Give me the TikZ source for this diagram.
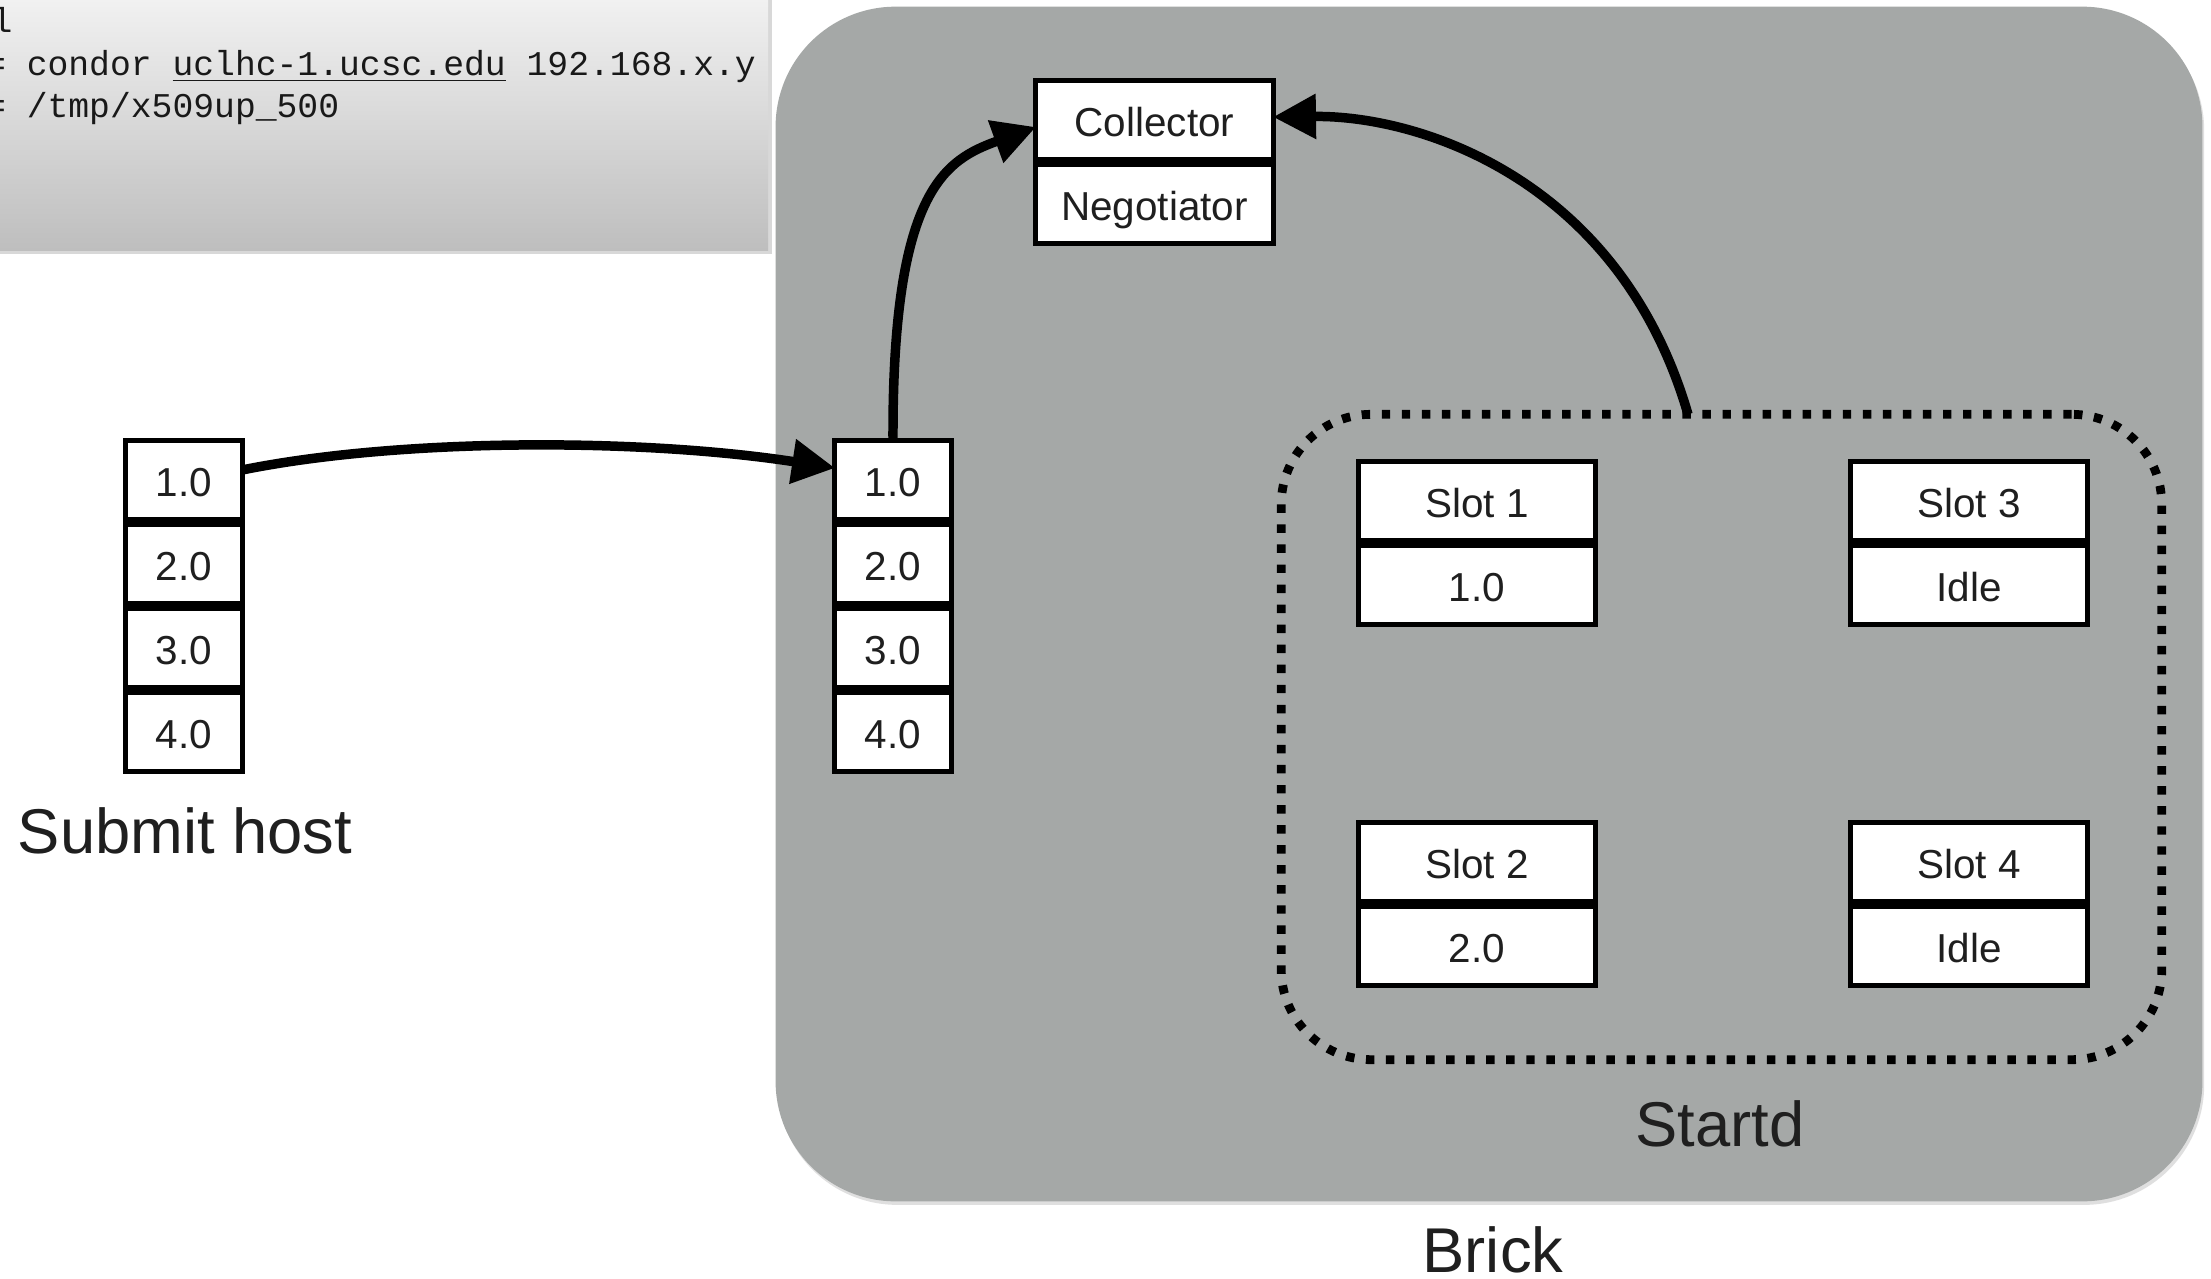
\documentclass[tikz,border=0pt]{standalone}
\usepackage{fontspec}
\setmainfont{Liberation Sans}
\newfontfamily\termfont{Liberation Mono}
\usetikzlibrary{arrows.meta,calc,shadows}
\definecolor{brickgray}{RGB}{165,168,167}
\definecolor{termtop}{RGB}{247,247,247}
\definecolor{termbot}{RGB}{190,190,190}
\begin{document}
\begin{tikzpicture}[x=0.01cm,y=-0.01cm,
  cell/.style={draw=black, line width=1.42pt, fill=white, inner sep=0pt, outer sep=0pt,
    minimum height=0.79cm, text height=0.95em, text depth=0pt, text=black!88,
    font=\fontsize{11.5}{13}\selectfont},
  jobcell/.style={cell, minimum width=1.16cm},
  widecell/.style={cell, minimum width=2.37cm},
  flow/.style={line width=2.7pt, -{Triangle[length=12.2pt,width=12.2pt]}},
  biglabel/.style={font=\fontsize{18}{21}\selectfont, inner sep=0pt, anchor=base, text=black!88},
  termline/.style={font=\termfont\fontsize{9.87}{11}\selectfont, inner sep=0pt, anchor=base west, text=black!90}
]
\useasboundingbox (0,0) rectangle (2211,1278);
\clip (0,0) rectangle (2211,1278);
\fill[white] (0,0) rectangle (2211,1278);

% terminal window (cut off at top left)
\shade[top color=termtop, bottom color=termbot,
  drop shadow={shadow xshift=1.2pt, shadow yshift=-1.2pt, opacity=0.3}]
  (-30,-30) rectangle (768,250);
\node[termline] (t1) at (-9,32) {l};
\node[termline] (t2) at (-15.6,75) {= condor \underline{uclhc-1.ucsc.edu} 192.168.x.y};
\node[termline] (t3) at (-15.6,117) {= /tmp/x509up\_500};

% brick
\node[fill=brickgray, rounded corners=1.2cm, minimum width=14.26cm, minimum height=11.94cm,
  inner sep=0pt, outer sep=0pt,
  drop shadow={shadow xshift=0.5pt, shadow yshift=-1pt, opacity=0.25}] (brick) at (1489,604) {};

% startd group
\node[draw=black, line width=2.5pt, dash pattern=on 2.4pt off 3.3pt, rounded corners=0.9cm,
  minimum width=8.8cm, minimum height=6.45cm, inner sep=0pt, outer sep=0pt] (startd) at (1721.5,737) {};

% labels
\node[biglabel] (submitlbl) at (185,853) {Submit host};
\node[biglabel] (startdlbl) at (1720,1146) {Startd};
\node[biglabel] (bricklbl) at (1493,1272) {Brick};

% submit host queue
\node[jobcell] (s1) at (184,480) {1.0};
\node[jobcell] (s2) at (184,564) {2.0};
\node[jobcell] (s3) at (184,648) {3.0};
\node[jobcell] (s4) at (184,732) {4.0};

% brick queue
\node[jobcell] (b1) at (893,480) {1.0};
\node[jobcell] (b2) at (893,564) {2.0};
\node[jobcell] (b3) at (893,648) {3.0};
\node[jobcell] (b4) at (893,732) {4.0};

% collector / negotiator
\node[widecell] (coll) at (1154.5,120) {Collector};
\node[widecell] (neg) at (1154.5,204) {Negotiator};

% slots
\node[widecell] (slot1) at (1477,501) {Slot 1};
\node[widecell] (job1) at (1477,585) {1.0};
\node[widecell] (slot3) at (1969,501) {Slot 3};
\node[widecell] (idle3) at (1969,585) {Idle};
\node[widecell] (slot2) at (1477,862) {Slot 2};
\node[widecell] (job2) at (1477,946) {2.0};
\node[widecell] (slot4) at (1969,862) {Slot 4};
\node[widecell] (idle4) at (1969,946) {Idle};

% connectors
\draw[flow] ($(s1.east)+(0,-10)$) .. controls (400,438) and (640,438) .. ($(b1.west)+(0,-12)$);
\draw[flow] (b1.north) .. controls (892,190) and (945,160) .. ($(coll.west)+(0,7)$);
\draw[flow] ($(startd.north)+(-33.5,0)$) .. controls (1620,180) and (1420,115) .. ($(coll.east)+(0,-3)$);
\end{tikzpicture}
\end{document}
